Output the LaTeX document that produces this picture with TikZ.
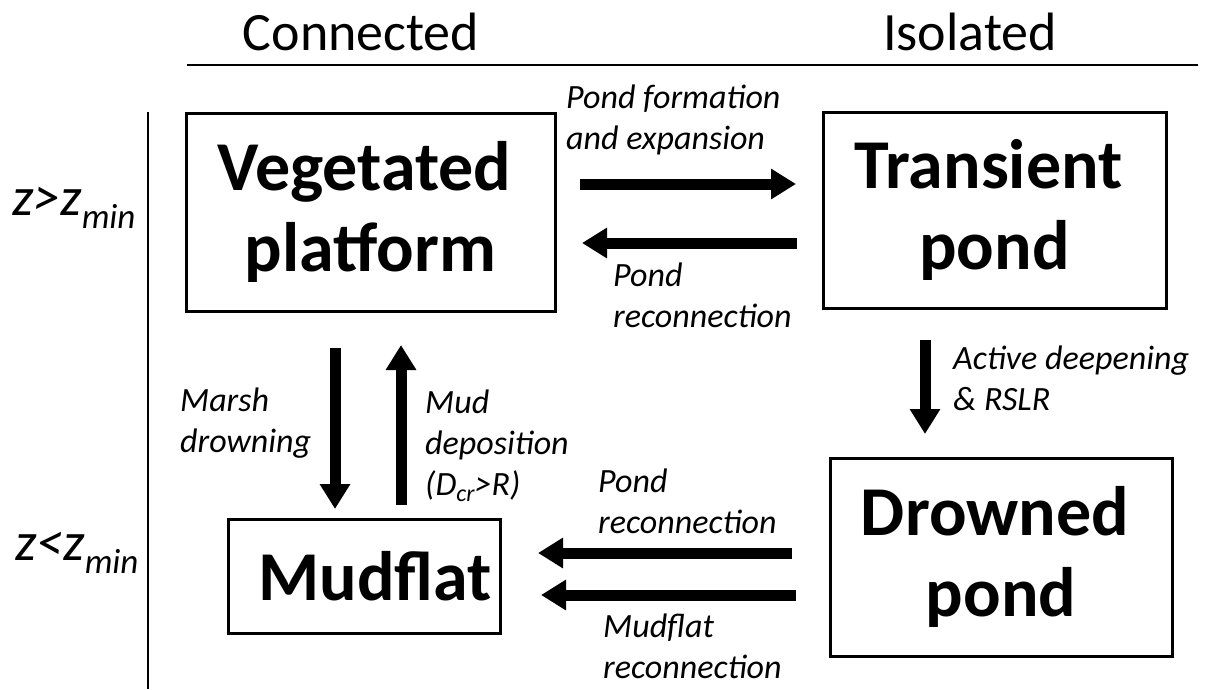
\documentclass[tikz,border=0pt]{standalone}
\usepackage{fontspec}
\setmainfont{Carlito}
\usetikzlibrary{arrows.meta}
\tikzset{
  box/.style={draw, line width=3pt, inner sep=0pt, align=center,
    font=\fontsize{70}{81}\selectfont\bfseries},
  head/.style={font=\fontsize{54}{60}\selectfont, anchor=base, inner sep=0pt},
  lbl/.style={font=\fontsize{34}{41}\selectfont\itshape, anchor=base west,
    align=left, inner sep=0pt},
  zlbl/.style={anchor=base west, inner sep=0pt},
  bigarrow/.style={line width=11pt, -{Triangle[length=25pt,width=29pt]}},
  rule/.style={line width=1.5pt}
}
\newcommand{\zlab}[1]{{\fontsize{54}{60}\selectfont\itshape z#1z}\raisebox{-13pt}{\fontsize{35}{40}\selectfont\itshape min}}
\begin{document}
\begin{tikzpicture}[x=1pt,y=-1pt]
\useasboundingbox (0,0) rectangle (1205,689);
% header
\node[head] (conn) at (361,50) {Connected};
\node[head] (isol) at (970,50) {Isolated};
\coordinate (hl) at (187,65);
\coordinate (hr) at (1198,65);
\draw[rule] (hl) -- (hr);
\coordinate (vt) at (148,112);
\coordinate (vb) at (148,689);
\draw[rule] (vt) -- (vb);
% side labels
\node[zlbl] (zgt) at (12,215) {\zlab{>}};
\node[zlbl] (zlt) at (15,560) {\zlab{<}};
% boxes
\node[box, minimum width=369pt, minimum height=198pt] (vp) at (370.5,212) {Vegetated\hspace*{12pt}\\platform};
\node[box, minimum width=343pt, minimum height=196pt] (tp) at (994.5,210) {Transient\hspace*{12pt}\\pond};
\node[box, minimum width=342pt, minimum height=198pt] (dp) at (1001,557) {Drowned\hspace*{12pt}\\pond};
\node[box, minimum width=272pt, minimum height=114pt] (mf) at (364,576) {\hspace*{22pt}Mudflat};
% arrow endpoints
\coordinate (a1s) at (580,184);
\coordinate (a1e) at (796,184);
\coordinate (a2s) at (797,243);
\coordinate (a2e) at (582,243);
\coordinate (a3s) at (925,340);
\coordinate (a3e) at (925,434);
\coordinate (a4s) at (335,348);
\coordinate (a4e) at (335,509);
\coordinate (a5s) at (401,505);
\coordinate (a5e) at (401,345);
\coordinate (a6s) at (792,553);
\coordinate (a6e) at (538,553);
\coordinate (a7s) at (796,595);
\coordinate (a7e) at (541,595);
\draw[bigarrow] (a1s) -- (a1e);
\draw[bigarrow] (a2s) -- (a2e);
\draw[bigarrow] (a3s) -- (a3e);
\draw[bigarrow] (a4s) -- (a4e);
\draw[bigarrow] (a5s) -- (a5e);
\draw[bigarrow] (a6s) -- (a6e);
\draw[bigarrow] (a7s) -- (a7e);
% labels (anchored at the baseline of the last line)
\node[lbl] (l1) at (566,149) {Pond formation\\and expansion};
\node[lbl] (l2) at (613,327) {Pond\\reconnection};
\node[lbl] (l3) at (953,410) {Active deepening\\\& RSLR};
\node[lbl] (l4) at (180,452) {Marsh\\drowning};
\node[lbl] (l5) at (425,495) {Mud\\deposition\\(D\raisebox{-6pt}{\fontsize{24}{28}\selectfont cr}>R)};
\node[lbl] (l6) at (598,533) {Pond\\reconnection};
\node[lbl] (l7) at (603,678) {Mudflat\\reconnection};
\end{tikzpicture}
\end{document}
